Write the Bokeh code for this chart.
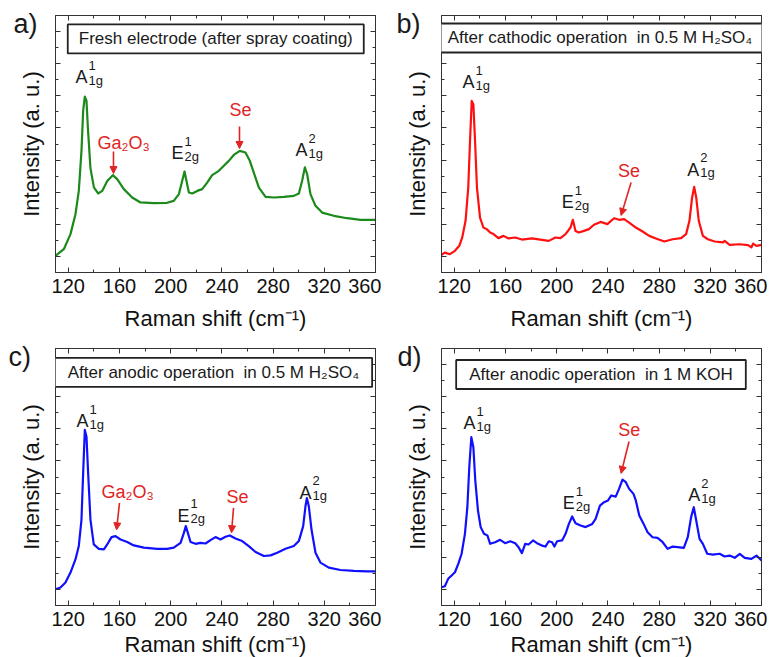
from bokeh.plotting import figure
from bokeh.layouts import column, row
from bokeh.models import LinearAxis, FixedTicker, Range1d, Label, Arrow, NormalHead, Title
from bokeh.embed import file_html
from bokeh.resources import INLINE

# ---------------- data (Raman shift in cm^-1, intensity in arbitrary units) ----------------
x_ticks = [120, 160, 200, 240, 280, 320, 360]
x_minor = [140, 180, 220, 260, 300, 340]
y_major = [1, 3, 5, 7, 9, 11, 13, 15]
y_minor = [2, 4, 6, 8, 10, 12, 14]

a_shift = [110, 116.5, 121.7, 125.6, 128.2, 130.3, 131.6, 132.9, 134.2, 135.3, 137.3, 140, 143.3, 146.5,
           150.4, 154.8, 158.2, 163.4, 169.9, 176.4, 186.8, 197.2, 202.4, 206.4, 209, 210.8, 212.3, 214.2,
           216.8, 220.7, 224.6, 228.5, 232.4, 237.6, 241.5, 245.4, 249.3, 254, 258.4, 261.8, 264.9, 268.9,
           274.1, 280.6, 288.4, 296.2, 300.1, 302.7, 304.8, 306.6, 309.2, 313.1, 318.3, 327.4, 337.9, 348.3, 360]
a_int = [1.04, 1.45, 2.39, 3.63, 5.08, 7.57, 10.06, 10.95, 10.7, 9.0, 6.5, 5.3, 4.92, 5.08,
         5.7, 6.06, 5.81, 5.19, 4.67, 4.36, 4.32, 4.34, 4.46, 4.88, 5.71, 6.29, 5.71, 4.98,
         4.92, 5.08, 5.19, 5.6, 6.06, 6.33, 6.64, 6.95, 7.32, 7.57, 7.47, 6.95, 6.22, 5.29,
         4.71, 4.67, 4.71, 4.77, 4.92, 5.71, 6.54, 6.12, 4.88, 4.15, 3.73, 3.53, 3.38, 3.28, 3.28]

b_shift = [110, 112.6, 116.5, 120.5, 123.9, 126.2, 128.8, 130.9, 132.3, 133.6, 134.9, 136.2, 137.7, 140.1,
           142.7, 145.3, 148, 150.6, 154.5, 158.4, 162.4, 167.6, 172.8, 180.7, 188.5, 193.8, 199, 202.9,
           206.9, 210.8, 212.6, 214.7, 217.3, 221.3, 225.2, 229.1, 234.3, 239.6, 244.8, 248.7, 252.7, 256.6,
           261.8, 267.1, 272.3, 277.5, 284.1, 290.6, 297.2, 301.1, 303.7, 305.8, 307.4, 309, 311, 314.2,
           318.1, 323.4, 329.9, 331.2, 335.1, 343, 349.5, 352.1, 353.4, 356.1, 360]
b_int = [1.1, 1.24, 1.14, 1.35, 1.66, 2.18, 3.22, 5.29, 8.2, 10.68, 10.48, 8.2, 5.29, 3.42,
         2.8, 2.7, 2.49, 2.39, 2.14, 2.28, 2.12, 2.18, 2.05, 2.12, 2.03, 1.97, 2.18, 2.14,
         2.39, 2.8, 3.28, 2.59, 2.49, 2.59, 2.7, 2.97, 3.15, 3.01, 3.38, 3.28, 3.32, 3.11,
         2.8, 2.55, 2.28, 2.12, 1.93, 2.07, 2.14, 2.39, 3.22, 4.67, 5.33, 4.67, 3.22, 2.28,
         2.07, 1.93, 1.87, 1.97, 1.72, 1.76, 1.7, 1.56, 1.8, 1.66, 1.72]

c_shift = [110, 113.9, 117.8, 121.7, 125.6, 128.2, 130.3, 131.6, 132.9, 134.2, 135.5, 137.3, 139.9, 143.9,
           147.8, 150.4, 153.8, 156.9, 160.8, 166, 171.2, 179, 189.4, 197.2, 202.4, 207.7, 210.3, 211.8,
           213.4, 215.5, 219.4, 223.3, 227.2, 231.1, 235, 238.9, 242.8, 246.2, 250.6, 255.8, 261, 266.3,
           272.8, 278, 283.2, 289.7, 296.2, 300.1, 303.5, 305.3, 306.4, 307.9, 310, 313.1, 317, 323.5,
           332.6, 343.1, 353.5, 360]
c_int = [1.01, 1.12, 1.43, 2.05, 2.87, 3.7, 5.35, 8.24, 10.93, 10.52, 8.24, 5.35, 3.8, 3.53,
         3.49, 3.8, 4.26, 4.32, 4.11, 3.95, 3.74, 3.6, 3.53, 3.53, 3.6, 3.9, 4.52, 4.94,
         4.52, 3.95, 3.84, 3.9, 3.86, 4.07, 4.26, 4.11, 4.28, 4.36, 4.17, 4.01, 3.7, 3.33,
         3.08, 3.12, 3.29, 3.53, 3.7, 4.01, 4.94, 6.18, 6.69, 6.18, 4.73, 3.29, 2.67, 2.36,
         2.21, 2.15, 2.13, 2.13]

d_shift = [110, 112.6, 115.2, 117.9, 120.5, 123.1, 125.7, 128.3, 130.2, 131.7, 133.3, 134.9, 136.4, 138.5,
           140.6, 143.2, 145.9, 148, 151.9, 155.8, 159.7, 163.7, 167.6, 170.2, 172.8, 175.4, 178, 181.5,
           184.6, 188.5, 191.2, 193.8, 196.4, 198.2, 200.3, 204.2, 206.9, 209.5, 212.1, 214.7, 218.6, 222.6,
           225.2, 227.8, 230.4, 233.8, 237, 240.1, 242.7, 246.1, 248.7, 251.4, 254, 256.6, 260, 261.8,
           264.5, 267.9, 271, 274.9, 278.8, 282.8, 286.7, 290.6, 294.6, 299.3, 302.4, 305, 307.1, 309,
           311.6, 314.2, 317.6, 322, 327.3, 331.2, 335.1, 339.1, 343, 346.9, 352.1, 356.1, 360]
d_int = [1.14, 1.2, 1.66, 1.87, 2.07, 2.59, 3.22, 4.46, 6.12, 8.61, 10.48, 9.85, 7.78, 5.91,
         4.88, 4.46, 4.36, 3.84, 3.94, 4.09, 3.88, 4.0, 3.88, 3.63, 3.26, 3.84, 3.8, 4.05,
         3.88, 3.73, 3.67, 4.0, 3.94, 3.67, 4.0, 4.05, 4.46, 5.08, 5.54, 5.12, 4.98, 4.88,
         4.98, 5.08, 5.39, 6.22, 6.43, 6.54, 6.85, 6.78, 7.26, 7.84, 7.68, 7.26, 6.95, 6.54,
         5.6, 5.08, 4.56, 4.25, 4.21, 3.94, 3.53, 3.67, 3.63, 3.59, 4.25, 5.5, 6.12, 5.29,
         4.15, 3.84, 3.22, 3.17, 3.22, 3.05, 3.11, 2.97, 3.22, 2.97, 2.9, 3.11, 2.8]

titles = ["Fresh electrode (after spray coating)",
          "After cathodic operation\u00a0 in 0.5 M H\u2082SO\u2084",
          "After anodic operation\u00a0 in 0.5 M H\u2082SO\u2084",
          "After anodic operation\u00a0 in 1 M KOH"]
letters = ["a)", "b)", "c)", "d)"]

# ---------------- styling ----------------
FONT = "Liberation Sans"
TXT = "#1a1a1a"
FRAME = "#333333"
RED = "#e02424"
LIFT = 5  # px: lift of peak annotations above their anchor


def style_axis(ax, show_labels):
    ax.axis_line_color = FRAME
    ax.axis_line_width = 1
    ax.major_tick_line_color = FRAME
    ax.minor_tick_line_color = FRAME
    ax.major_tick_in = 5
    ax.major_tick_out = 0
    ax.minor_tick_in = 3
    ax.minor_tick_out = 0
    ax.major_label_text_font = FONT
    ax.axis_label_text_font = FONT
    ax.axis_label_text_font_style = "normal"
    ax.axis_label_text_color = "#111111"
    if show_labels:
        ax.major_label_text_font_size = "20px"
        ax.major_label_text_color = "#111111"
        ax.major_label_standoff = 6
    else:
        ax.major_label_text_font_size = "1px"
        ax.major_label_text_color = None
        ax.major_label_text_alpha = 0
        ax.major_label_standoff = 0


def make_panel(xs, ys, color, left_border, top_border, bottom_border, xlabel_standoff):
    p = figure(frame_width=320, frame_height=257,
               x_range=Range1d(110, 360), y_range=Range1d(0, 16),
               output_backend="svg", toolbar_location=None,
               min_border_left=left_border, min_border_right=6,
               min_border_top=top_border, min_border_bottom=bottom_border,
               background_fill_color="white", border_fill_color="white")
    p.outline_line_color = FRAME
    p.grid.visible = False
    p.xaxis.ticker = FixedTicker(ticks=x_ticks, minor_ticks=x_minor)
    p.yaxis.ticker = FixedTicker(ticks=y_major, minor_ticks=y_minor)
    style_axis(p.xaxis[0], True)
    style_axis(p.yaxis[0], False)
    p.xaxis.axis_label = "Raman shift (cm\u207b\u00b9)"
    p.xaxis.axis_label_text_font_size = "22px"
    p.xaxis.axis_label_standoff = xlabel_standoff
    p.yaxis.axis_label = "Intensity (a. u.)"
    p.yaxis.axis_label_text_font_size = "22px"
    p.yaxis.axis_label_standoff = 12
    top = LinearAxis(ticker=FixedTicker(ticks=x_ticks, minor_ticks=x_minor))
    style_axis(top, False)
    p.add_layout(top, "above")
    right = LinearAxis(ticker=FixedTicker(ticks=y_major, minor_ticks=y_minor))
    style_axis(right, False)
    p.add_layout(right, "right")
    p.line(xs, ys, line_color=color, line_width=2.2, line_join="round")
    return p


def title_box(p, cx, cy, text, padx):
    p.add_layout(Label(x=cx, y=cy, text=text, text_align="center", text_baseline="middle",
                       text_font=FONT, text_font_size="17px", text_color=TXT,
                       background_fill_color="white", border_line_color="#222222",
                       border_line_width=1.8, padding=(padx, 5)))


def letter(p, text, dx):
    # panel letter drawn as a side-panel title, pulled down beside the frame's top-left corner
    p.add_layout(Title(text="\n" + text, align="left", offset=dx, standoff=-46, vertical_align="bottom",
                       text_font=FONT, text_font_size="27px", text_font_style="normal",
                       text_line_height=0.5, text_color=TXT), "above")


def peak(p, x, y, main, sup, sub):
    p.add_layout(Label(x=x, y=y, y_offset=LIFT, text=main, text_font=FONT, text_font_size="18px",
                       text_color=TXT, text_baseline="alphabetic", text_align="left"))
    p.add_layout(Label(x=x, y=y, x_offset=13, y_offset=LIFT + 12, text=sup, text_font=FONT,
                       text_font_size="13px", text_color=TXT, text_baseline="alphabetic", text_align="left"))
    p.add_layout(Label(x=x, y=y, x_offset=13, y_offset=LIFT - 3, text=sub, text_font=FONT,
                       text_font_size="13px", text_color=TXT, text_baseline="alphabetic", text_align="left"))


def red_label(p, x, y, text):
    p.add_layout(Label(x=x, y=y, y_offset=LIFT, text=text, text_font=FONT, text_font_size="18px",
                       text_color=RED, text_baseline="alphabetic", text_align="left"))


def red_arrow(p, x0, y0, x1, y1):
    p.add_layout(Arrow(end=NormalHead(size=7, fill_color=RED, line_color=RED, line_width=1),
                       x_start=x0, y_start=y0, x_end=x1, y_end=y1,
                       line_color=RED, line_width=1.6))


# ---------------- panel a ----------------
pa = make_panel(a_shift, a_int, "#1b8a1b", 55, 15, 58, 10)
title_box(pa, 235.2, 14.54, titles[0], 11)
letter(pa, letters[0], -42)
peak(pa, 125.6, 11.83, "A", "1", "1g")
peak(pa, 200.6, 7.1, "E", "1", "2g")
peak(pa, 297.5, 7.29, "A", "2", "1g")
red_label(pa, 142.8, 7.78, "Ga\u2082O\u2083")
red_arrow(pa, 155.3, 7.53, 155.3, 6.16)
red_label(pa, 245.9, 9.78, "Se")
red_arrow(pa, 253.75, 9.09, 253.75, 7.72)

# ---------------- panel b ----------------
pb = make_panel(b_shift, b_int, "#ff1010", 60, 15, 58, 10)
title_box(pb, 233.8, 14.6, titles[1], 11)
letter(pb, letters[1], -45)
peak(pb, 126.5, 11.52, "A", "1", "1g")
peak(pb, 204.0, 4.05, "E", "1", "2g")
peak(pb, 302.0, 6.1, "A", "2", "1g")
red_label(pb, 247.9, 5.98, "Se")
red_arrow(pb, 258.1, 5.6, 250.3, 3.55)

# ---------------- panel c ----------------
pc = make_panel(c_shift, c_int, "#1010ff", 55, 15, 50, 3)
title_box(pc, 233.4, 14.51, titles[2], 13)
letter(pc, letters[2], -47)
peak(pc, 126.4, 11.16, "A", "1", "1g")
peak(pc, 205.3, 5.27, "E", "1", "2g")
peak(pc, 300.6, 6.7, "A", "2", "1g")
red_label(pc, 145.9, 6.76, "Ga\u2082O\u2083")
red_arrow(pc, 160.0, 6.39, 157.7, 4.71)
red_label(pc, 243.6, 6.45, "Se")
red_arrow(pc, 249.1, 6.08, 247.5, 4.53)

# ---------------- panel d ----------------
pd_ = make_panel(d_shift, d_int, "#1010ff", 60, 15, 50, 3)
title_box(pd_, 234.6, 14.38, titles[3], 13)
letter(pd_, letters[3], -44)
peak(pd_, 127.2, 11.02, "A", "1", "1g")
peak(pd_, 204.8, 6.04, "E", "1", "2g")
peak(pd_, 302.8, 6.54, "A", "2", "1g")
red_label(pd_, 248.0, 10.59, "Se")
red_arrow(pd_, 256.5, 10.21, 250.3, 8.22)

layout = column(row(pa, pb), row(pc, pd_))

open("out.html", "w").write(file_html(layout, INLINE))
